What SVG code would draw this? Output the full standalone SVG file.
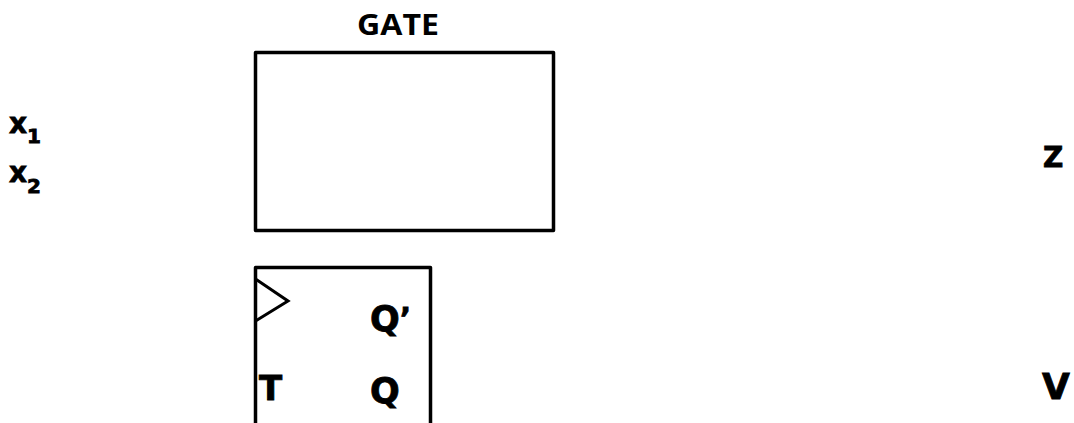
<svg xmlns="http://www.w3.org/2000/svg" width="1074" height="423" viewBox="0 0 1074 423">
<style>
.box{fill:#fff;stroke:#000;stroke-width:3.5;stroke-linejoin:round}
.lbl{font-family:"DejaVu Sans",sans-serif;font-weight:bold;fill:#000;stroke:#000;stroke-width:0.8}
.title{font-family:"Open Sans",sans-serif;font-weight:bold;fill:#000}
</style>
<rect width="1074" height="423" fill="#fff"/>
<g id="gate">
<text class="title" x="398" y="35" font-size="28" text-anchor="middle" textLength="82" lengthAdjust="spacingAndGlyphs">GATE</text>
<rect class="box" x="255.5" y="52.5" width="298" height="178"/>
</g>
<g id="inputs">
<text class="lbl" x="9" y="133" font-size="28">x<tspan font-size="20" dy="10">1</tspan></text>
<text class="lbl" x="9" y="182" font-size="28">x<tspan font-size="20" dy="11">2</tspan></text>
</g>
<g id="flipflop">
<rect class="box" x="255.5" y="267.5" width="175" height="170"/>
<polyline points="255.5,279 288,301 255.5,321" fill="none" stroke="#000" stroke-width="3"/>
<text class="lbl" x="259" y="400" font-size="34">T</text>
<text class="lbl" x="370" y="331" font-size="35">Q<tspan font-size="30" dy="-2">’</tspan></text>
<text class="lbl" x="370" y="403" font-size="35">Q</text>
</g>
<g id="outputs">
<text class="lbl" x="1043" y="167" font-size="28">Z</text>
<text class="lbl" x="1042" y="399" font-size="36">V</text>
</g>
<g id="connectors"></g>
</svg>
